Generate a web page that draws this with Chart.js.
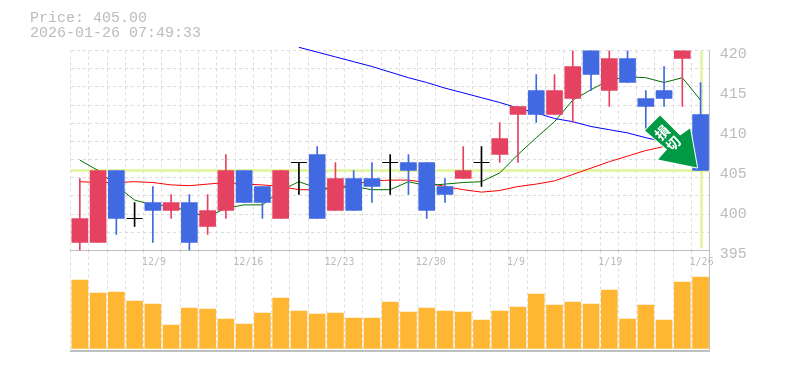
<!DOCTYPE html>
<html><head><meta charset="utf-8">
<script src="https://cdn.jsdelivr.net/npm/chart.js"></script>
<style>
html,body{margin:0;padding:0;background:#fff;overflow:hidden}
canvas{position:absolute;left:0}
#a{top:0;z-index:2}
#b{top:250px;z-index:1}
</style></head><body>
<canvas id="a" width="785" height="270"></canvas>
<canvas id="b" width="785" height="105"></canvas>
<script>
const titleLines = ['Price: 405.00','2026-01-26 07:49:33'];
const lastPrice = 405;
const markerText = ['損','切'];
const categories = ['11/28','12/1','12/2','12/3','12/4','12/5','12/8','12/9','12/10','12/11','12/12','12/15','12/16','12/17','12/18','12/19','12/22','12/23','12/24','12/25','12/26','12/29','12/30','1/5','1/6','1/7','1/8','1/9','1/13','1/14','1/15','1/16','1/19','1/20','1/26'];
const labelled = {4:'12/9',9:'12/16',14:'12/23',19:'12/30',24:'1/9',29:'1/19',34:'1/26'};
const opens  = [396,396,405,399,401,400,401,398,400,405,403,399,406,407,400,404,404,406,406,406,403,404,406,407,412,415,412,414,421,415,419,414,415,419,412];
const closes = [399,405,399,399,400,401,396,400,405,401,401,405,406,399,404,400,403,406,405,400,402,405,406,409,413,412,415,418,417,419,416,413,414,421,405];
const highs  = [404,405,405,401,403,402,402,402,407,405,403,405,406,408,406,405,406,407,407,406,404,408,408,411,413,417,417,421,421,421,421,415,418,421,416];
const lows   = [395,396,397,398,396,399,395,397,399,401,399,399,402,399,400,400,401,402,402,399,401,404,403,406,406,411,412,411,415,413,416,410,413,413,405];
const maShort = [406.3,405.0,403.1,401.3,400.7,400.6,399.8,399.2,400.3,400.7,400.7,402.5,403.6,402.8,402.8,403.0,402.6,402.6,403.6,403.1,403.3,403.5,403.6,404.7,407.0,409.1,411.1,413.8,415.1,416.3,416.7,416.6,416.0,416.6,413.8];
const maMid = [403.6,403.5,403.5,403.6,403.5,403.2,403.1,403.3,403.5,403.3,403.2,403.0,402.6,402.6,402.8,403.3,403.7,403.8,403.8,403.5,403.0,402.6,402.3,402.5,403.0,403.3,403.7,404.5,405.3,406.1,406.8,407.5,408.0,408.5,408.8];
const maLong = [null,null,null,null,null,null,null,null,null,null,null,null,420.4,419.8,419.2,418.6,418.0,417.3,416.6,416.0,415.3,414.7,414.1,413.5,412.8,412.2,411.5,411.1,410.5,410.1,409.7,409.1,408.6,408.1,407.6];
const volumes = [68.3,55.3,56.3,47.3,44.3,23.3,40.3,39.3,29.3,24.3,35.3,50.3,37.3,34.3,35.3,30.3,30.3,46.3,36.3,40.3,37.3,36.3,28.3,37.3,41.3,54.3,43.3,46.3,44.3,58.3,29.3,43.3,28.3,66.3,71.3];
const yTicks = [395,400,405,410,415,420];

const UP='#e44260', DOWN='#4169e1', DOJI='#000000', GRID='#dcdcdc', AXIS='#c0c0c0', TEXT='#bcbcbc', CROSS='#e3f6a8', VOL='#ffb733';
const dirColor = i => opens[i]===closes[i] ? DOJI : (closes[i]>opens[i] ? UP : DOWN);
const wickColors = categories.map((_,i)=>dirColor(i));
const bodyColors = wickColors;
const bodies = categories.map((_,i)=> opens[i]===closes[i] ? null : [opens[i],closes[i]]);
const wicks = categories.map((_,i)=> [lows[i],highs[i]]);
const dojis = categories.map((_,i)=> opens[i]===closes[i] ? opens[i] : null);

const PAD_L=70.7, RIGHT_W=75.3;
const mono='"Liberation Mono", monospace';
const monoSmall='"DejaVu Sans Mono", monospace';

const overlay = {
  id:'overlay',
  beforeDatasetsDraw(c){
    const {ctx,chartArea:a,scales:{x,y}}=c;
    ctx.save();
    ctx.fillStyle=CROSS;
    ctx.fillRect(a.left,Math.floor(y.getPixelForValue(lastPrice)-1.5),a.right-a.left,3);
    ctx.fillRect(Math.round(x.getPixelForValue(34))-1,a.top,3,a.bottom-a.top-2);
    ctx.restore();
  },
  afterDatasetsDraw(c){
    const {ctx,scales:{x,y}}=c;
    const tx=x.getPixelForValue(34)-3.5, ty=y.getPixelForValue(lastPrice)-3;
    const pts=[[-37,-52],[-52,-37],[-30,-18],[-39,-8],[0,0],[-7,-39],[-17,-32]];
    ctx.save();
    ctx.translate(tx,ty);
    ctx.beginPath();
    pts.forEach((p,i)=> i?ctx.lineTo(p[0],p[1]):ctx.moveTo(p[0],p[1]));
    ctx.closePath();
    ctx.fillStyle='#009944';
    ctx.strokeStyle='#ffffff';
    ctx.lineWidth=2;
    ctx.lineJoin='round';
    ctx.stroke();
    ctx.fill();
    ctx.fillStyle='#ffffff';
    ctx.font='bold 14px "Noto Sans CJK JP"';
    ctx.textAlign='center';
    ctx.textBaseline='middle';
    [[-35,-35],[-24,-24]].forEach((p,i)=>{
      ctx.save();
      ctx.translate(p[0],p[1]);
      ctx.rotate(-Math.PI/4);
      ctx.fillText(markerText[i],0,0);
      ctx.restore();
    });
    ctx.restore();
  },
  afterDraw(c){
    const {ctx}=c;
    ctx.save();
    ctx.fillStyle=TEXT;
    ctx.font='15px '+mono;
    ctx.textAlign='left';
    ctx.textBaseline='middle';
    ctx.fillText(titleLines[0],30,18);
    ctx.fillText(titleLines[1],30,33);
    ctx.restore();
  }
};

new Chart(document.getElementById('a'),{
  type:'bar',
  plugins:[overlay],
  data:{labels:categories,datasets:[
    {type:'line',data:dojis,showLine:false,order:0,pointStyle:'line',pointRadius:8,pointBorderColor:DOJI,pointBorderWidth:1,pointBackgroundColor:DOJI,yAxisID:'y'},
    {data:bodies,backgroundColor:bodyColors,barThickness:16,grouped:false,order:1,yAxisID:'y'},
    {data:wicks,backgroundColor:wickColors,barThickness:1,grouped:false,order:2,yAxisID:'y'},
    {type:'line',data:maLong,borderColor:'#0000ff',borderWidth:1,pointRadius:0,tension:0,order:3,clip:4,yAxisID:'y'},
    {type:'line',data:maShort,borderColor:'#007000',borderWidth:1,pointRadius:0,tension:0,order:4,yAxisID:'y'},
    {type:'line',data:maMid,borderColor:'#ff0000',borderWidth:1,pointRadius:0,tension:0,order:5,yAxisID:'y'}
  ]},
  options:{
    responsive:false,animation:false,
    layout:{padding:{top:50.5,left:PAD_L,right:0,bottom:0}},
    plugins:{legend:{display:false},tooltip:{enabled:false}},
    scales:{
      x:{offset:true,
        grid:{offset:true,color:GRID,drawTicks:false,lineWidth:1},
        border:{color:AXIS,width:1,dash:[3,3]},
        ticks:{autoSkip:false,maxRotation:0,minRotation:0,align:'start',labelOffset:-11,padding:6,color:TEXT,font:{family:monoSmall,size:10},
          callback:(v,i)=>labelled[i]||''},
        afterFit(s){s.height=19.5;}
      },
      g:{position:'left',min:0,max:11,
        grid:{color:GRID,drawTicks:false},
        border:{display:false,dash:[3,3]},
        ticks:{display:false,stepSize:1},
        afterFit(s){s.width=0;}
      },
      y:{position:'right',min:395,max:420,
        grid:{display:false,drawTicks:false},
        border:{color:AXIS,width:1},
        afterBuildTicks(s){s.ticks=yTicks.map(v=>({value:v}));},
        ticks:{padding:10,labelOffset:3.5,color:TEXT,font:{family:mono,size:15},callback:v=>String(v)},
        afterFit(s){s.width=RIGHT_W;}
      }
    }
  }
});

new Chart(document.getElementById('b'),{
  type:'bar',
  data:{labels:categories,datasets:[{data:volumes,backgroundColor:VOL,barThickness:16,yAxisID:'y'}]},
  options:{
    responsive:false,animation:false,
    layout:{padding:{top:.5,left:PAD_L,right:0,bottom:0}},
    plugins:{legend:{display:false},tooltip:{enabled:false}},
    scales:{
      x:{offset:true,
        grid:{offset:true,color:GRID,drawTicks:false},
        border:{color:AXIS,width:2,dash:[3,3]},
        ticks:{display:false},
        afterFit(s){s.height=4.5;}
      },
      y:{position:'right',min:-2,max:98,
        grid:{display:false,drawTicks:false},
        border:{color:AXIS,width:1},
        ticks:{display:false},
        afterFit(s){s.width=RIGHT_W;}
      }
    }
  }
});
</script>
</body></html>
